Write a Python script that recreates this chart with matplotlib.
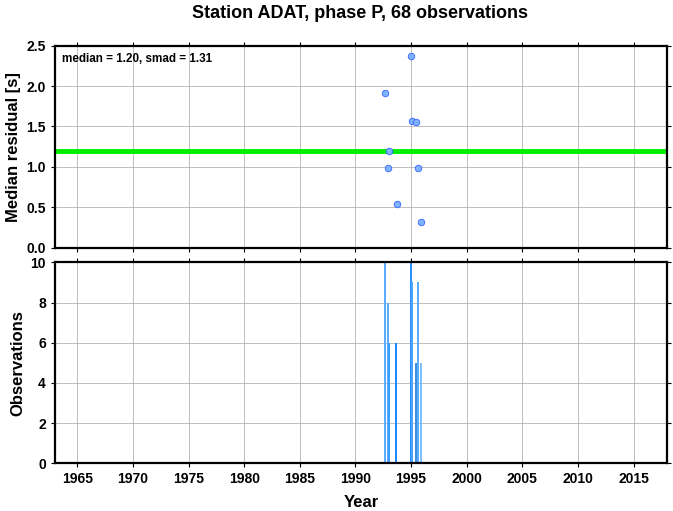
import matplotlib
matplotlib.use("Agg")
import matplotlib.pyplot as plt

plt.rcParams['font.family'] = ['Liberation Sans', 'DejaVu Sans']
plt.rcParams['font.weight'] = 'bold'

# median residual per epoch (top panel)
res_years = [1992.65, 1992.92, 1993.01, 1993.71, 1994.97, 1995.09, 1995.42, 1995.63, 1995.88]
res_values = [1.92, 0.99, 1.20, 0.54, 2.37, 1.57, 1.555, 0.99, 0.32]

# observation counts per epoch (bottom panel)
obs_years = [1992.65, 1992.92, 1993.01, 1993.67, 1994.97, 1995.10, 1995.42, 1995.63, 1995.88]
obs_counts = [10, 8, 6, 6, 10, 9, 5, 9, 5]
obs_colors = ['#5aacff', '#5aacff', '#3d9cff', '#1e88ff', '#2a90ff', '#4aa4ff', '#3a8fe0', '#5aacff', '#80bfff']

median = 1.20
smad = 1.31

year_ticks = list(range(1965, 2016, 5))

fig = plt.figure(figsize=(6.73, 5.11), dpi=100)
ax1 = fig.add_axes([0.0817, 0.5153, 0.9093, 0.3953])
ax2 = fig.add_axes([0.0817, 0.0933, 0.9093, 0.3934])

for ax in (ax1, ax2):
    ax.set_xlim(1963, 2018)
    ax.set_xticks(year_ticks)
    ax.grid(True, color='#b4b4b4', linewidth=0.6)
    ax.set_axisbelow(True)
    for s in ax.spines.values():
        s.set_linewidth(1.6)
    ax.tick_params(direction='out', length=3, width=0.8, top=True, right=True,
                   labelsize=10)

# top panel
ax1.axhline(median, color='#00ee00', linewidth=3.5, zorder=2)
ax1.scatter(res_years, res_values, s=22, color='#7fb2ff', edgecolor='#3366ff',
            linewidth=0.6, zorder=3)
ax1.set_ylim(0, 2.5)
ax1.set_yticks([0, 0.5, 1.0, 1.5, 2.0, 2.5])
ax1.set_yticklabels(['0.0', '0.5', '1.0', '1.5', '2.0', '2.5'])
ax1.set_xticklabels([])
ax1.set_ylabel('Median residual [s]', fontsize=12, fontweight='bold')
ax1.text(0.012, 0.965, 'median = %.2f, smad = %.2f' % (median, smad),
         transform=ax1.transAxes, fontsize=8.4, fontweight='bold', va='top', ha='left')

# bottom panel
ax2.bar(obs_years, obs_counts, width=0.17, color=obs_colors, linewidth=0, zorder=2)
ax2.set_ylim(0, 10)
ax2.set_yticks([0, 2, 4, 6, 8, 10])
ax2.set_ylabel('Observations', fontsize=12, fontweight='bold')
ax2.set_xlabel('Year', fontsize=12, fontweight='bold', labelpad=6)

fig.suptitle('Station ADAT, phase P, 68 observations', fontsize=13,
             fontweight='bold', x=0.535, y=0.99)

fig.savefig('out.png', dpi=100)
